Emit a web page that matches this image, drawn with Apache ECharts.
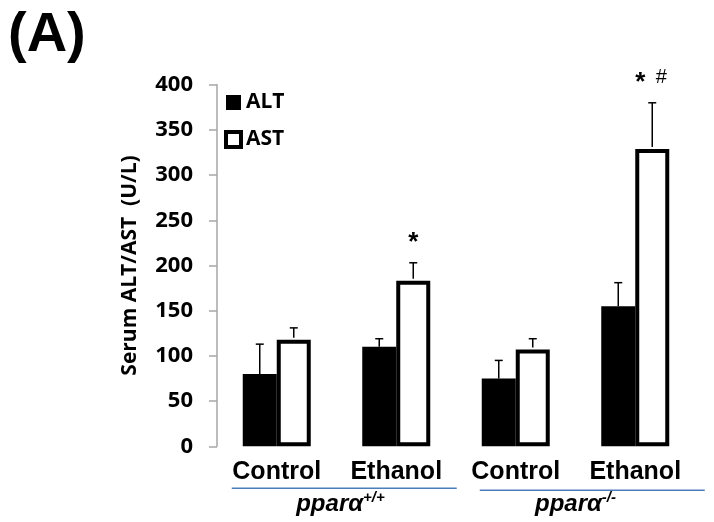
<!DOCTYPE html>
<html>
<head>
<meta charset="utf-8">
<script src="https://cdn.jsdelivr.net/npm/echarts@6/dist/echarts.min.js"></script>
<style>
html,body{margin:0;padding:0;background:#fff;}
#chart{width:714px;height:522px;}
</style>
</head>
<body>
<div id="chart"></div>
<script>
const categories = ['Control', 'Ethanol', 'Control', 'Ethanol'];
const altValues = [80, 110, 75, 155];
const altErrors = [33, 9, 20, 26];
const astValues = [118, 183, 107, 329];
const astErrors = [13, 20, 12, 51];
const astStars = ['', '*', '', '*'];
const astHashes = ['', '', '', '#'];
const genotypes = ['pparα', 'pparα'];
const genotypeSups = ['+/+', '-/-'];
const yMin = 0, yMax = 400, yStep = 50;

const BAR_W = 34;
const chart = echarts.init(document.getElementById('chart'));

const errData = [];
altValues.forEach((v, i) => errData.push([i, v, altErrors[i], -1, '', '']));
astValues.forEach((v, i) => errData.push([i, v, astErrors[i], 1, astStars[i], astHashes[i]]));

function renderErr(params, api) {
  const ci = api.value(0), v = api.value(1), e = api.value(2), side = api.value(3);
  const base = api.coord([ci, v]);
  const top = api.coord([ci, v + e]);
  const x = base[0] + side * BAR_W / 2;
  const children = [
    {type: 'line', shape: {x1: x, y1: base[1] - (side > 0 ? 2 : 0), x2: x, y2: top[1]}, style: {stroke: '#000', lineWidth: 1.5}},
    {type: 'line', shape: {x1: x - 4, y1: top[1], x2: x + 4, y2: top[1]}, style: {stroke: '#000', lineWidth: 1.5}}
  ];
  const star = api.value(4), hash = api.value(5);
  if (star) {
    children.push({type: 'text', x: hash ? x - 12 : x, y: top[1] - 20,
      style: {text: star, font: 'bold 26px "Liberation Sans"', fill: '#000', align: 'center', verticalAlign: 'middle'}});
  }
  if (hash) {
    children.push({type: 'text', x: x + 9, y: top[1] - 25,
      style: {text: hash, font: '20px "Liberation Sans"', fill: '#000', align: 'center', verticalAlign: 'middle'}});
  }
  return {type: 'group', children};
}

chart.setOption({
  animation: false,
  backgroundColor: '#fff',
  title: {
    text: '(A)', left: 3, top: 3,
    textStyle: {fontFamily: 'Liberation Sans', fontWeight: 'bold', fontSize: 56, color: '#000'}
  },
  legend: {
    orient: 'vertical', left: 219, top: 87, itemWidth: 15, itemHeight: 15, itemGap: 16,
    icon: 'rect',
    textStyle: {fontFamily: 'Open Sans', fontWeight: 'bold', fontSize: 21, color: '#000'},
    data: [
      {name: 'ALT', itemStyle: {color: '#000', borderWidth: 0}},
      {name: 'AST', itemStyle: {color: '#fff', borderColor: '#000', borderWidth: 4}}
    ]
  },
  grid: {left: 217, right: 19, top: 84.7, bottom: 75.7, containLabel: false},
  xAxis: {
    type: 'category', data: categories,
    axisLine: {show: false}, axisTick: {show: false},
    axisLabel: {margin: 13, fontFamily: 'Liberation Sans', fontWeight: 'bold', fontSize: 25, color: '#000', interval: 0}
  },
  yAxis: {
    type: 'value', min: yMin, max: yMax, interval: yStep,
    name: 'Serum ALT/AST  (U/L)', nameLocation: 'middle', nameGap: 76, nameRotate: 90,
    nameTextStyle: {fontFamily: 'Open Sans', fontWeight: 'bold', fontSize: 21, color: '#000'},
    axisLine: {show: true, lineStyle: {color: '#a6a6a6', width: 1.5}},
    axisTick: {show: true, length: 8, lineStyle: {color: '#a6a6a6', width: 1.5}},
    splitLine: {show: false},
    axisLabel: {margin: 24, fontFamily: 'Open Sans', fontWeight: 'bold', fontSize: 22, color: '#000'}
  },
  series: [
    {name: 'ALT', type: 'bar', data: altValues, barWidth: BAR_W, barGap: '0%',
      itemStyle: {color: '#000'}},
    {name: 'AST', type: 'bar', data: astValues, barWidth: BAR_W,
      itemStyle: {color: '#fff', borderColor: '#000', borderWidth: 4}},
    {name: 'err', type: 'custom', data: errData, renderItem: renderErr, z: 5,
      encode: {x: 0, y: 1}}
  ]
});

// genotype group labels with underlines
const gfx = [];
for (let g = 0; g < 2; g++) {
  const c0 = chart.convertToPixel({xAxisIndex: 0}, 2 * g);
  const c1 = chart.convertToPixel({xAxisIndex: 0}, 2 * g + 1);
  const y0 = chart.convertToPixel({yAxisIndex: 0}, 0);
  const mid = (c0 + c1) / 2;
  const x1 = (g === 0 ? c0 - 45 : c0 - 36);
  const x2 = x1 + 225;
  gfx.push({type: 'line', shape: {x1: x1, y1: y0 + 42 + g * 2, x2: x2, y2: y0 + 42 + g * 2},
    style: {stroke: '#4a7ebb', lineWidth: 1.5}});
  gfx.push({type: 'text', x: mid + (g === 0 ? 4 : 0), y: y0 + 58,
    style: {
      text: '{m|' + genotypes[g] + '}{s|' + genotypeSups[g] + '}',
      align: 'center', verticalAlign: 'middle',
      rich: {
        m: {font: 'italic bold 24px "Liberation Sans"', fill: '#000'},
        s: {font: 'italic bold 15px "Liberation Sans"', fill: '#000', verticalAlign: 'top', padding: [0, 0, 12, 0]}
      }
    }});
}
chart.setOption({graphic: gfx});
</script>
</body>
</html>
